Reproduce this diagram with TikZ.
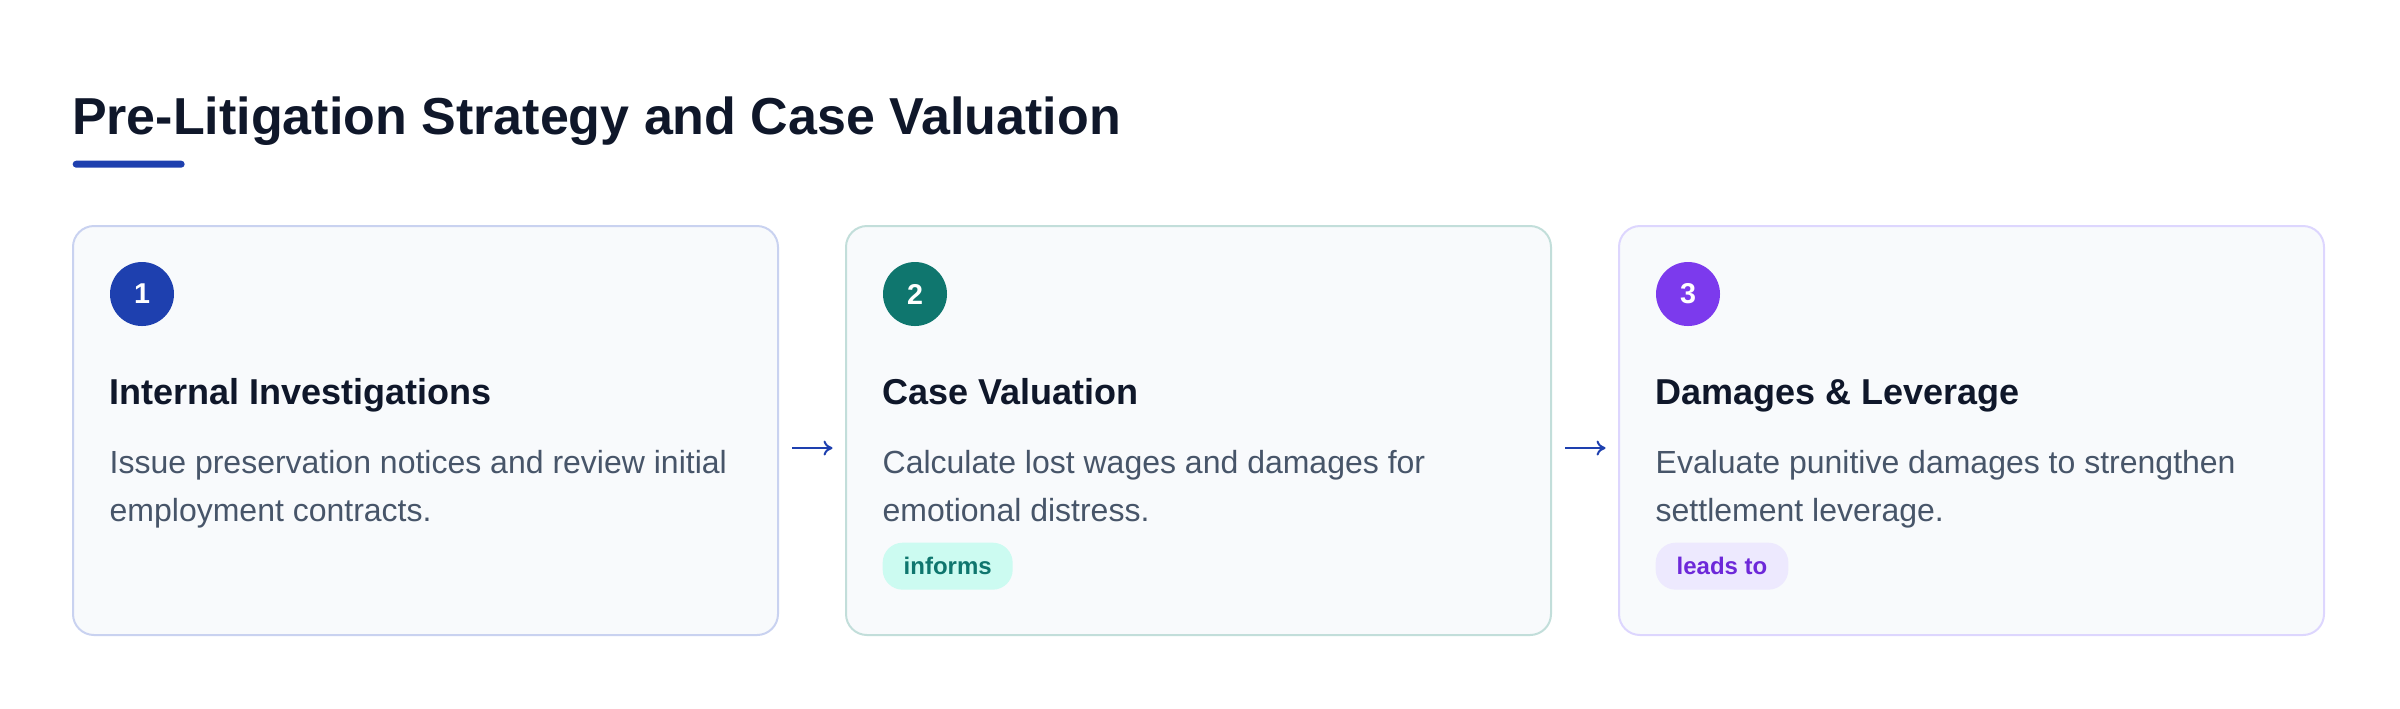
\documentclass[tikz,border=0pt]{standalone}
\usepackage{fontspec}
\setmainfont{Liberation Sans}
\usepackage{tikz}
\usetikzlibrary{positioning}
\usetikzlibrary{arrows.meta}
\definecolor{ink}{HTML}{0F172A}
\definecolor{slate}{HTML}{475569}
\definecolor{blueA}{HTML}{1E40AF}
\definecolor{tealB}{HTML}{0F766E}
\definecolor{violetC}{HTML}{7C3AED}
\definecolor{cardbg}{HTML}{F8FAFC}
\definecolor{lineA}{HTML}{C9D2F0}
\definecolor{lineB}{HTML}{C2DEDA}
\definecolor{lineC}{HTML}{DDD6FE}
\definecolor{pillB}{HTML}{CCFBF1}
\definecolor{pillC}{HTML}{EDE9FE}
\definecolor{pilltextC}{HTML}{6D28D9}

\begin{document}
\begin{tikzpicture}[node distance={19.8pt},
    card/.style = {draw, fill=cardbg, line width=0.6pt, rounded corners=6.3pt, minimum width=211.5pt, minimum height=122.7pt, inner sep=0pt},
    num/.style = {circle, minimum size=19.2pt, inner sep=0pt, text=white, font=\fontsize{8.6}{10}\selectfont\bfseries},
    head/.style = {anchor=base west, inner sep=0pt, text=ink, font=\fontsize{10.8}{13}\selectfont\bfseries},
    desc/.style = {anchor=base west, inner sep=0pt, text=slate, align=left, font=\fontsize{9.6}{14.4}\selectfont},
    pill/.style = {anchor=north west, rounded corners=6pt, minimum height=14.1pt, inner xsep=6.3pt, inner ysep=0pt, font=\fontsize{7.2}{8}\selectfont\bfseries},
    link/.style = {-{To[length=2.7pt,width=4.5pt]}, blueA, line width=0.6pt, shorten <=3.9pt, shorten >=3.75pt}]
    \useasboundingbox (0,0) rectangle (720pt,-212.4pt);
    % Title
    \node[anchor=base west, inner sep=0pt, text=ink, font=\fontsize{15.6}{18}\selectfont\bfseries] (title) at (21.4pt,-40.35pt) {Pre-Litigation Strategy and Case Valuation};
    \node[fill=blueA, rounded corners=1.05pt, minimum width=33.6pt, minimum height=2.1pt, inner sep=0pt, anchor=north west] (bar) at (21.6pt,-48pt) {};
    % Cards
    \node[card, draw=lineA, anchor=north west] (1) at (21.6pt,-67.5pt) {};
    \node[card, draw=lineB] (2) [right=of 1] {};
    \node[card, draw=lineC] (3) [right=of 2] {};
    % Card 1
    \node[num, fill=blueA] (n1) at ([xshift=21pt,yshift=-20.7pt]1.north west) {1};
    \node[head] (h1) at ([xshift=11.1pt,yshift=-53.7pt]1.north west) {Internal Investigations};
    \node[desc] (d1) at ([xshift=11.1pt,yshift=-88.8pt]1.north west) {Issue preservation notices and review initial\\employment contracts.};
    % Card 2
    \node[num, fill=tealB] (n2) at ([xshift=21pt,yshift=-20.7pt]2.north west) {2};
    \node[head] (h2) at ([xshift=11.1pt,yshift=-53.7pt]2.north west) {Case Valuation};
    \node[desc] (d2) at ([xshift=11.1pt,yshift=-88.8pt]2.north west) {Calculate lost wages and damages for\\emotional distress.};
    \node[pill, fill=pillB, text=tealB] (p2) at ([xshift=11.1pt,yshift=-95.1pt]2.north west) {informs};
    % Card 3
    \node[num, fill=violetC] (n3) at ([xshift=21pt,yshift=-20.7pt]3.north west) {3};
    \node[head] (h3) at ([xshift=11.1pt,yshift=-53.7pt]3.north west) {Damages \& Leverage};
    \node[desc] (d3) at ([xshift=11.1pt,yshift=-88.8pt]3.north west) {Evaluate punitive damages to strengthen\\settlement leverage.};
    \node[pill, fill=pillC, text=pilltextC] (p3) at ([xshift=11.1pt,yshift=-95.1pt]3.north west) {leads to};
    % Edges
    \draw[link] ([yshift=-5.25pt]1.east) -- ([yshift=-5.25pt]2.west);
    \draw[link] ([yshift=-5.25pt]2.east) -- ([yshift=-5.25pt]3.west);
\end{tikzpicture}
\end{document}
